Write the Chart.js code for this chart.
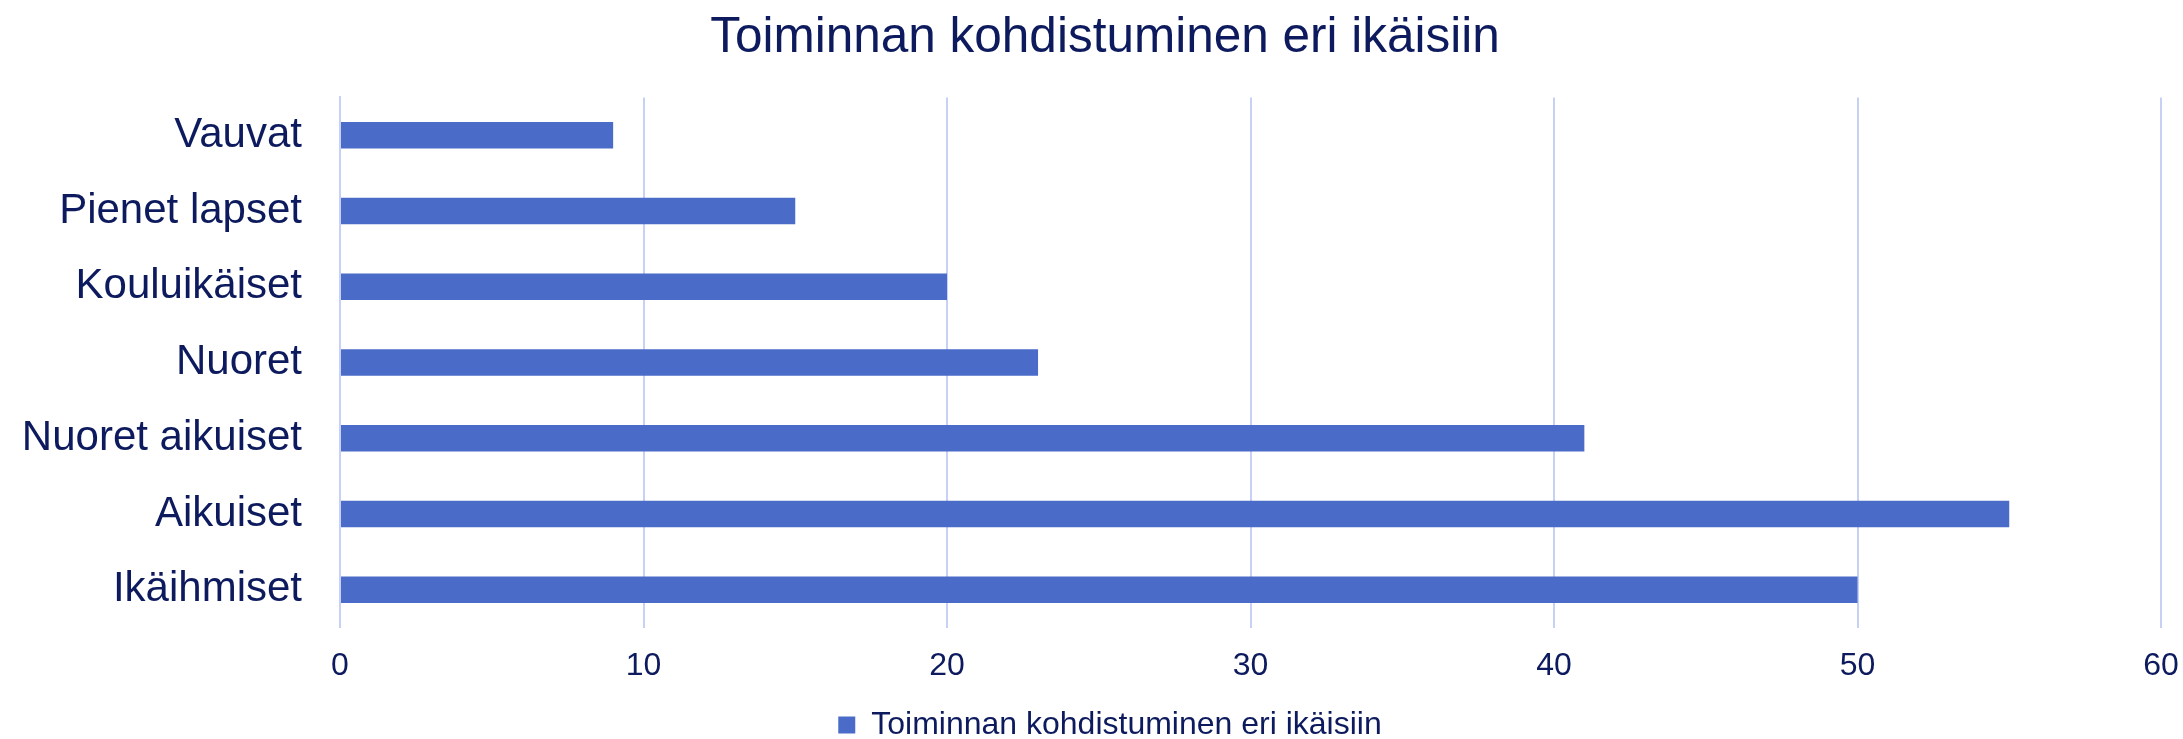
<!DOCTYPE html>
<html>
<head>
<meta charset="utf-8">
<script src="https://cdn.jsdelivr.net/npm/chart.js@4"></script>
<style>
html,body{margin:0;padding:0;background:#fff;}
#wrap{width:2183px;height:739px;position:relative;}
</style>
</head>
<body>
<div id="wrap"><canvas id="c"></canvas></div>
<script>
const chartTitle = "Toiminnan kohdistuminen eri ikäisiin";
const seriesName = "Toiminnan kohdistuminen eri ikäisiin";
const categories = ["Vauvat", "Pienet lapset", "Kouluikäiset", "Nuoret", "Nuoret aikuiset", "Aikuiset", "Ikäihmiset"];
const values = [9, 15, 20, 23, 41, 55, 50];
const xTicks = [0, 10, 20, 30, 40, 50, 60];

const TEXT = "#0d1b5e";
const BAR = "#4a6bc7";
const GRID = "#c7d1f5";

const shiftPlugin = {
  id: "shiftBlocks",
  afterLayout(chart) {
    const t = chart.titleBlock;
    if (t) { t.left += 4; t.right += 4; }
    const l = chart.legend;
    if (l) { l.left += 9; l.right += 9; }
  }
};

new Chart(document.getElementById("c"), {
  type: "bar",
  data: {
    labels: categories,
    datasets: [{
      label: seriesName,
      data: values,
      backgroundColor: BAR,
      borderWidth: 0,
      categoryPercentage: 1.0,
      barPercentage: 0.35
    }]
  },
  plugins: [shiftPlugin],
  options: {
    indexAxis: "y",
    responsive: true,
    maintainAspectRatio: false,
    animation: false,
    layout: { padding: { left: 19, right: 0, top: 0, bottom: -12 } },
    plugins: {
      title: {
        display: true,
        text: chartTitle,
        color: TEXT,
        font: { family: "'Liberation Sans', Arial, sans-serif", size: 49.5, weight: "normal" },
        padding: { top: 9, bottom: 29 }
      },
      legend: {
        display: true,
        position: "bottom",
        labels: {
          color: TEXT,
          font: { family: "'Liberation Sans', Arial, sans-serif", size: 32 },
          boxWidth: 17,
          boxHeight: 17,
          padding: 0
        }
      },
      tooltip: { enabled: false }
    },
    scales: {
      x: {
        min: 0,
        max: 60,
        afterBuildTicks(axis) { axis.ticks = xTicks.map(v => ({ value: v })); },
        afterFit(axis) { axis.height += 5; axis.paddingRight = 22; },
        grid: { color: GRID, lineWidth: 2, drawTicks: false },
        border: { display: false },
        ticks: {
          color: TEXT,
          padding: 19,
          font: { family: "'Liberation Sans', Arial, sans-serif", size: 32 }
        }
      },
      y: {
        grid: { display: false, drawTicks: false },
        border: { display: true, color: GRID, width: 2 },
        afterFit(axis) { axis.width = 321; },
        ticks: {
          color: TEXT,
          padding: 38,
          font: { family: "'Liberation Sans', Arial, sans-serif", size: 42 }
        }
      }
    }
  }
});
</script>
</body>
</html>
